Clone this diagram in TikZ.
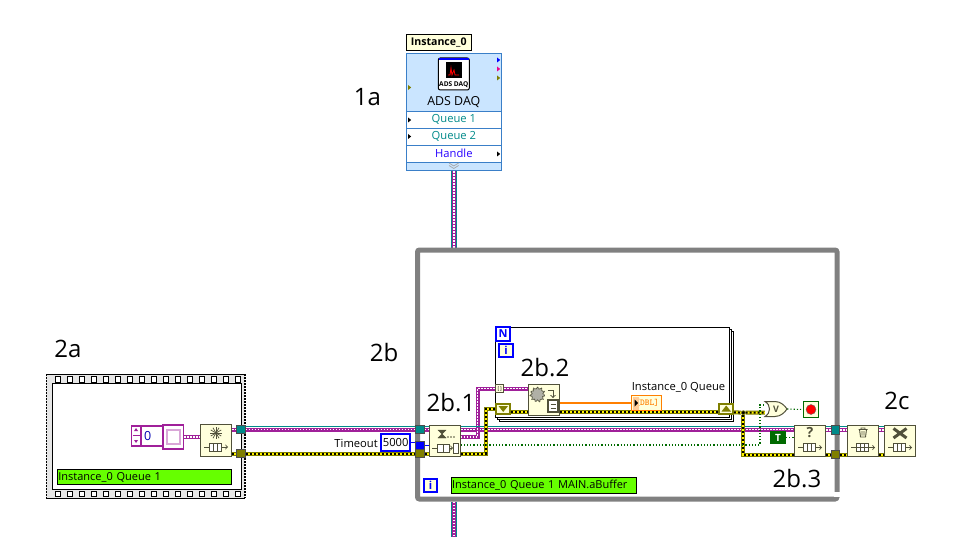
\documentclass[tikz,border=0pt]{standalone}
\usepackage{fontspec}
\setmainfont{Open Sans}
\usetikzlibrary{shapes.geometric}
\pgfdeclarelayer{frames}
\pgfdeclarelayer{wires}
\pgfsetlayers{frames,wires,main}
\definecolor{panelblue}{HTML}{CAE5FF}
\definecolor{panelline}{HTML}{3A7FC8}
\definecolor{fnfill}{HTML}{FFFFDC}
\definecolor{fnline}{HTML}{50503A}
\definecolor{wirepurple}{HTML}{A0209A}
\definecolor{wireteal}{HTML}{008A8A}
\definecolor{wireolive}{HTML}{7F7F00}
\definecolor{wireblue}{HTML}{0000FF}
\definecolor{wireorange}{HTML}{FF7F00}
\definecolor{wiregreen}{HTML}{006A00}
\definecolor{loopgray}{HTML}{808080}
\definecolor{filmgray}{HTML}{E6E6E6}
\definecolor{labelgreen}{HTML}{66FF00}
\tikzset{
  smalltext/.style={font=\fontsize{11.2}{12}\selectfont},
  steplabel/.style={font=\fontsize{24}{26}\selectfont,inner sep=0pt},
  fnbox/.style={draw=fnline,fill=fnfill,line width=1pt,minimum width=31.5pt,minimum height=31.5pt,inner sep=0pt},
  tunnelbox/.style={draw=black!70,line width=.6pt,minimum size=8.5pt,inner sep=0pt},
  queuetunnel/.style={tunnelbox,fill=wireteal},
  errtunnel/.style={tunnelbox,fill=wireolive},
  numtunnel/.style={tunnelbox,fill=wireblue},
  shiftreg/.style={draw=wireolive,fill=fnfill,line width=2pt,minimum width=13.5pt,minimum height=10pt,inner sep=0pt},
  greenlabel/.style={draw=black,fill=labelgreen,line width=1pt,font=\fontsize{11}{12}\selectfont,minimum height=15.5pt,inner sep=0pt,text height=8.5pt,text depth=2.5pt},
  itermark/.style={draw=wireblue,fill=fnfill,text=wireblue,line width=1.6pt,minimum size=13.5pt,inner sep=0pt,font=\fontsize{11}{11}\selectfont\bfseries},
  rowbox/.style={draw=panelline,fill=white,line width=.8pt,minimum width=95.7pt,minimum height=17pt,inner sep=0pt,smalltext},
  loopback/.style={draw=black,fill=white,line width=1pt,minimum width=233.5pt,minimum height=90pt},
  queuewire/.style={draw=wirepurple,line width=4pt,postaction={draw=white,line width=1.5pt,dash pattern=on 1.5pt off 1.5pt}},
  clusterwire/.style={draw=wireteal,line width=1.6pt},
  daqwire/.style={draw=wireteal,line width=6pt,postaction={draw=wirepurple,line width=3.6pt},postaction={draw=white,line width=1.2pt,dash pattern=on 1.5pt off 1.5pt}},
  errwire/.style={draw=wireolive,line width=4pt,postaction={draw=yellow,line width=2pt},postaction={draw=black,line width=2pt,dash pattern=on 2pt off 2pt}},
  dotwire/.style={draw=wiregreen,line width=1.1pt,dash pattern=on 1.2pt off 2pt},
  queueglyph/.pic={
    \path[draw=fnline,line width=.9pt,fill=white] (-7,2.5) rectangle (5,10.5);
    \path[draw=fnline,line width=.9pt] (-3,2.5) -- (-3,10.5) (1,2.5) -- (1,10.5) (-12,6.5) -- (-7,6.5);
    \path[draw=fnline,line width=.9pt,->] (5,6.5) -- (12,6.5);
  }
}
\begin{document}
\begin{tikzpicture}[x=1pt,y=-1pt,font=\fontsize{11.2}{12}\selectfont]
  \useasboundingbox (0,0) rectangle (960,537);
  \begin{pgfonlayer}{frames}
    \path[fill=white] (0,0) rectangle (960,537);
    % For loop pages, back to front
    \node[loopback] (forback) at (616.5,376) {};
    \node[loopback] (formid) at (614.5,374) {};
    \node[loopback] (forloop) at (612.5,372) {};
    % Film strip of the flat sequence
    \path[fill=filmgray] (46,374) rectangle (245,498);
    \path[draw=black,line width=1pt] (46,374) -- (245,374) (46,498) -- (245,498);
    \path[draw=black,line width=1.4pt,dash pattern=on 1.5pt off 1.5pt] (46.5,374) -- (46.5,498) (245,374) -- (245,498);
    \foreach \sx in {58,70,...,238} {
      \path[draw=black,fill=white,line width=.9pt] (\sx-3,376.5) rectangle +(5.5,5.5);
      \path[draw=black,fill=white,line width=.9pt] (\sx-3,491) rectangle +(5.5,5.5);
    }
    \node[draw=black,fill=white,line width=1pt,minimum width=189pt,minimum height=106pt,inner sep=0pt] (seqframe) at (146.5,436) {};
  \end{pgfonlayer}

  % ADS DAQ property node
  \node[draw=black,fill=fnfill,line width=.9pt,minimum width=65pt,minimum height=16pt,inner sep=0pt,font=\fontsize{10.6}{12}\selectfont\bfseries] (instname) at (438.7,42.5) {Instance\_0};
  \node[draw=panelline,fill=panelblue,line width=1pt,minimum width=95.7pt,minimum height=116.7pt,inner sep=0pt] (daq) at (453.85,112.3) {};
  \node[draw=black,fill=white,line width=1pt,rounded corners=2pt,minimum width=31pt,minimum height=32pt,inner sep=0pt] (adsicon) at (453.8,74) {};
  \path[fill=wireblue] (439,58.3) rectangle (469,60);
  \path[draw=black,fill=white,line width=1pt] (446,63) rectangle (461,78);
  \path[fill=black] (446,63) rectangle (461,78);
  \path[draw=red,line width=.8pt] (448,75) -- (450,75) -- (451,68) -- (452,75) -- (454,70) -- (455,75) -- (459,75);
  \node[inner sep=0pt,font=\fontsize{6.6}{7}\selectfont\bfseries] (adstext) at (453.8,85) {ADS DAQ};
  \node[inner sep=0pt,font=\fontsize{12.4}{13}\selectfont] (daqname) at (453.8,102.5) {ADS DAQ};
  \node[rowbox,text=wireteal] (rowa) at (453.85,119.7) {Queue 1};
  \node[rowbox,text=wireteal] (rowb) at (453.85,136.8) {Queue 2};
  \node[rowbox,text=wireblue!85!magenta] (rowc) at (453.85,153.6) {Handle};
  \path[draw=black!35,line width=.7pt] (449,163) -- (453.8,166) -- (458.6,163) (449,165.5) -- (453.8,168.5) -- (458.6,165.5);
  \foreach \tx/\ty/\tc in {497/60/wireblue,497/69/magenta,497/78/wireolive,408/87.5/wireolive,408/120/black,408/136.5/black,497/154/black} {
    \path[fill=\tc] (\tx,\ty-2.5) -- +(3.2,2.5) -- +(0,5) -- cycle;
  }

  % While loop frame
  \node[draw=loopgray,line width=5pt,rounded corners=2pt,minimum width=419.5pt,minimum height=249pt,inner sep=0pt] (whileloop) at (627.25,374.5) {};
  \path[fill=white] (834,492) rectangle (842,496.5);

  % Flat sequence contents
  \node[draw=wirepurple,fill=white,line width=1.4pt,minimum width=8.5pt,minimum height=20pt,inner sep=0pt] (arrayindex) at (136,436) {};
  \path[draw=wirepurple,line width=.8pt] (132.5,435.5) -- (139.5,435.5);
  \path[fill=wirepurple] (134,431) -- (138,431) -- (136,428) -- cycle (134,440) -- (138,440) -- (136,443) -- cycle;
  \node[draw=wirepurple,fill=white,line width=1.4pt,minimum width=22.5pt,minimum height=20pt,inner sep=0pt,text=wireblue!70!black,anchor=west,align=left,text width=20pt,font=\fontsize{12.5}{13}\selectfont] (arraynum) at (140.2,436) {\,0};
  \node[draw=wirepurple,fill=white,line width=1.4pt,minimum width=20.5pt,minimum height=24pt,inner sep=0pt] (arrayelem) at (173.3,437) {};
  \path[draw=wirepurple!40,line width=1.6pt] (167,430) rectangle (180,444);
  \node[fnbox] (obtain) at (216,440.5) {};
  \foreach \ang in {0,30,...,150} {
    \path[draw=fnline,line width=.7pt] (216,433) -- +(\ang:6) (216,433) -- +(\ang+180:6);
  }
  \pic at (obtain.center) {queueglyph};
  \node[greenlabel,minimum width=174.7pt,align=left,text width=172pt] (seqlabel) at (144.4,477) {Instance\_0 Queue 1};
  \node[queuetunnel] (qouta) at (241,429.5) {};
  \node[errtunnel] (eouta) at (241,453.5) {};

  % While loop contents
  \node[inner sep=0pt,anchor=east] (timeoutname) at (378,443) {Timeout};
  \node[draw=wireblue,fill=white,line width=2pt,minimum width=28.5pt,minimum height=17pt,inner sep=0pt] (timeoutval) at (395.7,442.5) {5000};
  \node[queuetunnel] (qina) at (420,429.5) {};
  \node[numtunnel] (tmo) at (420,445.5) {};
  \node[errtunnel] (eina) at (420,453.5) {};
  \node[fnbox] (dequeue) at (444.8,440.8) {};
  \path[draw=fnline,fill=fnline] (438,430) -- (446,430) -- (442,434) -- (446,438) -- (438,438) -- (442,434) -- cycle;
  \foreach \dotx in {448,451,454} {
    \path[fill=fnline] (\dotx,437) circle[radius=.9];
  }
  \path[draw=fnline,line width=.9pt,fill=white] (437,444) rectangle (449,452);
  \path[draw=fnline,line width=.9pt] (443,444) -- (443,452) (432,448) -- (437,448);
  \path[draw=fnline,line width=.9pt,->] (449,448) -- (453,448);
  \path[draw=fnline,line width=.9pt,fill=white] (453,443) rectangle (458,453);
  \node[itermark] (whileiter) at (430.5,485.5) {i};
  \node[greenlabel,minimum width=185pt,align=left,text width=183pt] (looplabel) at (543.5,485.5) {Instance\_0 Queue 1 MAIN.aBuffer};

  % For loop contents
  \node[itermark,fill=white] (forcount) at (503,334) {N};
  \node[itermark] (foriter) at (506,350.5) {i};
  \node[draw=fnline,fill=fnfill,line width=.9pt,minimum size=8pt,inner sep=0pt,font=\fontsize{5}{5}\selectfont] (elemin) at (499.8,388.7) {[\,]};
  \node[shiftreg] (srleft) at (503.2,409) {};
  \path[fill=wireolive] (498.5,406) -- (508,406) -- (503.2,412) -- cycle;
  \node[shiftreg] (srright) at (726.2,408.5) {};
  \path[fill=wireolive] (721.5,411.5) -- (731,411.5) -- (726.2,405.5) -- cycle;
  \node[fnbox] (gather) at (543.8,399.8) {};
  \node[star,star points=11,star point ratio=1.35,draw=fnline,fill=fnline!45,dash pattern=on 1pt off .6pt,line width=.9pt,minimum size=15pt,inner sep=0pt] (gathergear) at (537.5,394.5) {};
  \path[draw=fnline,line width=1pt,->] (548,390) -- (553,390) -- (553,398);
  \path[draw=fnline,line width=1.4pt,fill=white] (548,400) rectangle (558,412);
  \path[draw=fnline,line width=1pt] (550.5,404) -- (555.5,404) (550.5,408) -- (555.5,408);
  \node[draw=wireorange,fill=fnfill,line width=1.5pt,minimum width=30pt,minimum height=15pt,inner sep=0pt,text=wireorange,font=\fontsize{9}{9}\selectfont\ttfamily\bfseries] (dblind) at (646.5,403) {\,[DBL]};
  \path[fill=wireorange!40] (632.5,396.5) rectangle (639,409.5);
  \path[fill=black] (634.5,399.5) -- (638,403) -- (634.5,406.5) -- cycle;
  \node[inner sep=0pt] (dblname) at (678.5,387) {Instance\_0 Queue};

  % Stop logic
  \path[draw=fnline,fill=fnfill,line width=1pt] (765,401.5) .. controls (771,405) and (771,413) .. (765,416.5) -- (775,416.5) .. controls (781,416.5) and (785,412) .. (787,409) .. controls (785,406) and (781,401.5) .. (775,401.5) -- cycle;
  \node[inner sep=0pt,minimum width=22pt,minimum height=15pt,font=\fontsize{9}{9}\selectfont\bfseries,text=fnline] (orgate) at (776,409) {V};
  \node[draw=wiregreen,fill=fnfill,line width=1pt,minimum size=15.5pt,inner sep=0pt] (stopbtn) at (811,409.5) {};
  \path[fill=red,draw=black!60,line width=.4pt] (stopbtn.center) circle[radius=5];
  \node[draw=wiregreen,fill=wiregreen,line width=1pt,minimum width=15pt,minimum height=12pt,inner sep=0pt,text=white,font=\fontsize{10}{10}\selectfont\bfseries] (trueconst) at (778,437.5) {T};

  % Queue cleanup
  \node[fnbox] (preview) at (810,441) {};
  \node[inner sep=0pt,font=\fontsize{14}{14}\selectfont\bfseries,text=fnline] (previewmark) at (810,433) {?};
  \pic at (preview.center) {queueglyph};
  \node[fnbox] (release) at (863,441) {};
  \path[draw=fnline,line width=.9pt] (858.5,429.5) -- (867.5,429.5) (861,429.5) -- (861,428) -- (865,428) -- (865,429.5) (859.5,429.5) -- (860.5,437) -- (865.5,437) -- (866.5,429.5) (862,431) -- (862,435.5) (864,431) -- (864,435.5);
  \pic at (release.center) {queueglyph};
  \path[draw=fnline,line width=.9pt] (856,447.5) -- (868,447.5);
  \node[fnbox] (destroy) at (900,441) {};
  \path[draw=fnline,line width=3pt] (893.5,428.5) -- (906.5,438) (906.5,428.5) -- (893.5,438);
  \pic at (destroy.center) {queueglyph};
  \node[queuetunnel] (qoutb) at (835.5,430) {};
  \node[errtunnel] (eoutb) at (835.5,454.5) {};
  \node[circle,fill=black,draw=wireolive,line width=.7pt,minimum size=4pt,inner sep=0pt] (errdot) at (743.3,412.7) {};

  % Step labels
  \node[steplabel] (labela) at (367.5,97) {1a};
  \node[steplabel] (labelb) at (68,349) {2a};
  \node[steplabel] (labelc) at (384,352) {2b};
  \node[steplabel] (labeld) at (451,403) {2b.1};
  \node[steplabel] (labele) at (545,368) {2b.2};
  \node[steplabel] (labelf) at (797,479) {2b.3};
  \node[steplabel] (labelg) at (897,401) {2c};

  % Connections
  \coordinate (deqarray) at (460.6,437);
  \coordinate (arrayturn) at (477.5,388.7);
  \coordinate (errturn) at (486,409);
  \coordinate (dotrun) at (460.6,445);
  \coordinate (dotturn) at (760,405);
  \coordinate (pageend) at (454,537);
  \begin{pgfonlayer}{wires}
    % Instance wire
    \path[daqwire] (daq.south -| pageend) -- (whileloop.north -| pageend);
    \path[daqwire] (whileloop.south -| pageend) -- (pageend);
    % Queue wires
    \path[queuewire] (arrayelem.east) -- (arrayelem.east -| obtain.west);
    \path[queuewire] (obtain.east |- qouta) -- (qouta);
    \path[queuewire] (qouta) -- (qina) -- (qina -| dequeue.west);
    \path[queuewire] (dequeue.east |- qina) -- (preview.west |- qina);
    \path[queuewire] (preview.east |- qoutb) -- (qoutb) -- (release.west |- qoutb);
    \path[queuewire] (release.east |- qoutb) -- (destroy.west |- qoutb);
    \path[queuewire] (deqarray) -| (arrayturn) -- (elemin);
    \path[queuewire] (elemin) -- (gather.west |- elemin);
    \foreach \qa/\qb in {qouta/qina,qina/dequeue,dequeue/preview,preview/qoutb,qoutb/release,release/destroy} {
      \path[clusterwire] ([yshift=3.2pt]\qa.east |- qina) -- ([yshift=3.2pt]\qb.west |- qina);
    }
    % Error wires
    \path[errwire] (obtain.east |- eouta) -- (eouta);
    \path[errwire] (eouta) -- (eina) -- (eina -| dequeue.west);
    \path[errwire] (dequeue.east |- eina) -| (errturn) -- (srleft);
    \path[errwire] ([yshift=-3.2pt]srleft.east) -- ([yshift=-3.2pt]srleft.east -| gather.west);
    \path[errwire] ([yshift=-3.2pt]srleft.east -| gather.east) -- ([yshift=-3.2pt]srleft.east -| srright.west);
    \path[errwire] ([yshift=-3.8pt]srright.east) -- (errdot) -- (errdot -| orgate.west);
    \path[errwire] (errdot) |- (preview.west |- eoutb);
    \path[errwire] (preview.east |- eoutb) -- (eoutb) -- (release.west |- eoutb);
    \path[errwire] (release.east |- eoutb) -- (destroy.west |- eoutb);
    % Single lines
    \path[draw=wireblue,line width=1.2pt] (timeoutval.east) -- (timeoutval.east -| tmo.west);
    \path[draw=wireblue,line width=1.2pt] (tmo) -- (tmo -| dequeue.west);
    \path[draw=wireorange,line width=2pt] (gather.east |- dblind) -- (dblind.west);
    \path[dotwire] (dotrun) -| (dotturn) -- (dotturn -| orgate.west);
    \path[dotwire] (orgate.east) -- (stopbtn.west);
    \path[dotwire] (trueconst.east) -- (trueconst.east -| preview.west);
  \end{pgfonlayer}
\end{tikzpicture}
\end{document}
